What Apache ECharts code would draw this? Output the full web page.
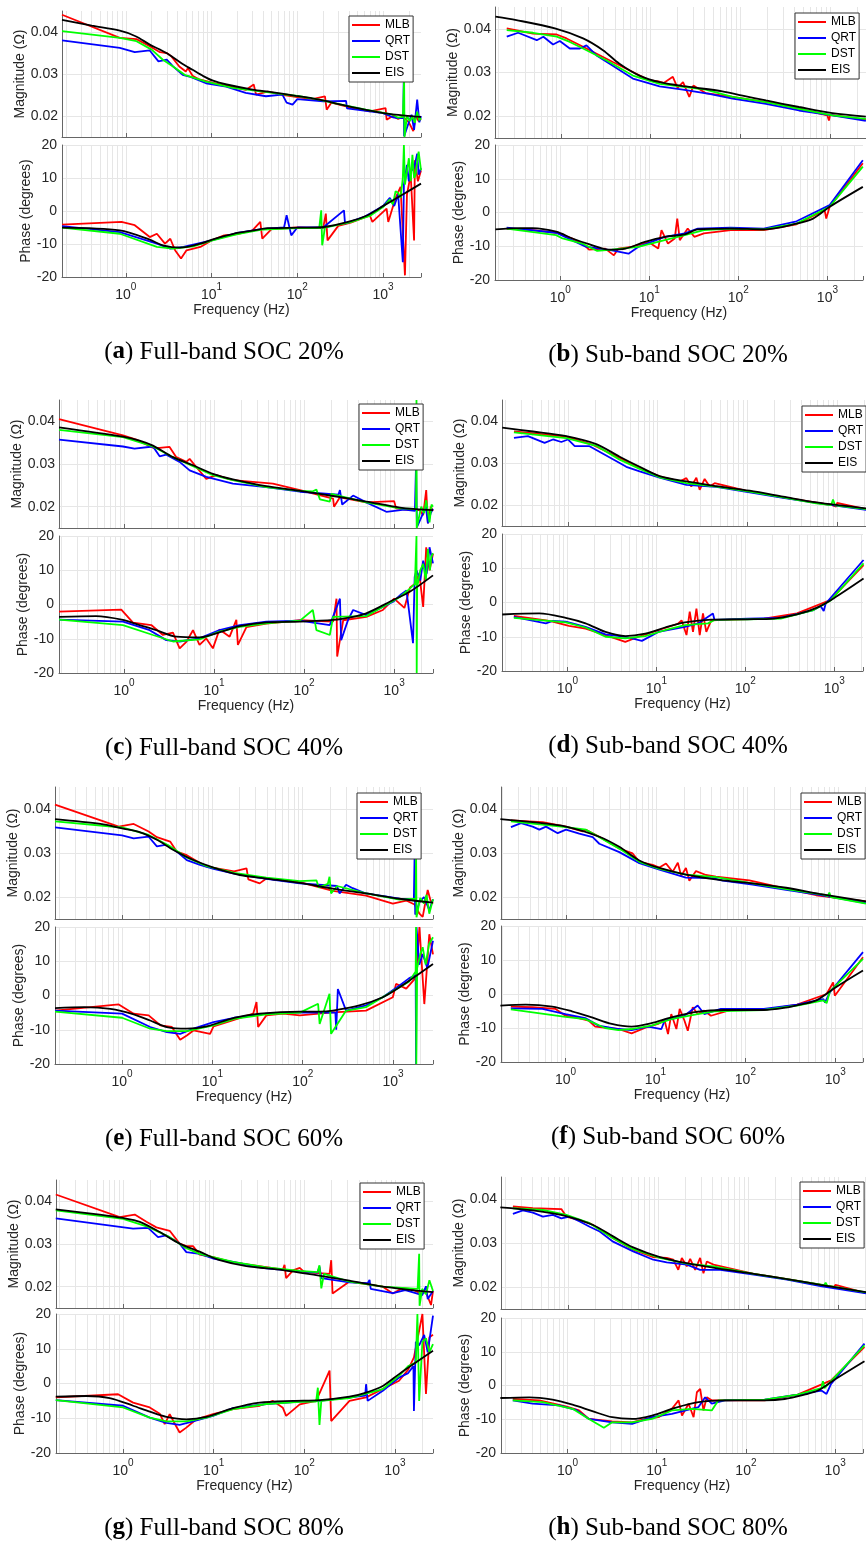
<!DOCTYPE html>
<html><head><meta charset="utf-8">
<script src="https://cdn.jsdelivr.net/npm/echarts@6/dist/echarts.min.js"></script>
<style>html,body{margin:0;padding:0;background:#fff}#c{width:866px;height:1542px}</style>
</head><body><div id="c"></div>
<script>
// ---------------- DATA ----------------
const seriesNames = ['MLB','QRT','DST','EIS'];
const captionLetters = ['a','b','c','d','e','f','g','h'];
const captionTexts = ['Full-band SOC 20%','Sub-band SOC 20%','Full-band SOC 40%','Sub-band SOC 40%','Full-band SOC 60%','Sub-band SOC 60%','Full-band SOC 80%','Sub-band SOC 80%'];
const magTickLabels = [0.02,0.03,0.04];

// (a) Full-band SOC 20%
const a_mag_MLB = [[0.18,0.0441],[0.85,0.0386],[1.33,0.0383],[1.9,0.0366],[2.5,0.0352],[3.0,0.0350],[3.4,0.0342],[4.2,0.0318],[5,0.0306],[5.3,0.0314],[6,0.0296],[7.2,0.0287],[10.4,0.0279],[15,0.0272],[25,0.0262],[31,0.0275],[33,0.0251],[45,0.0258],[70,0.0250],[100,0.0245],[150,0.0240],[210,0.0247],[220,0.0215],[250,0.0232],[400,0.0221],[700,0.0211],[1070,0.0219],[1100,0.0191],[1300,0.0200],[1500,0.0193],[1700,0.0199],[2000,0.0185],[2250,0.0164],[2400,0.0200],[2600,0.0188],[2770,0.0193]];
const a_mag_QRT = [[0.18,0.0380],[0.85,0.0362],[1.27,0.0352],[1.9,0.0356],[2.4,0.0330],[3.0,0.0334],[3.55,0.0318],[4.6,0.0298],[5.5,0.0294],[8.6,0.0278],[14.8,0.0270],[25,0.0255],[43,0.0247],[67,0.0251],[75,0.0232],[88,0.0227],[100,0.0240],[200,0.0235],[370,0.0236],[380,0.0218],[1000,0.0207],[1300,0.0197],[1500,0.0195],[1720,0.0195],[1740,0.0280],[1760,0.0152],[2000,0.0185],[2150,0.0203],[2300,0.0167],[2500,0.0239],[2650,0.0185],[2770,0.0200]];
const a_mag_DST = [[0.18,0.0402],[0.85,0.0386],[1.33,0.0378],[2,0.0358],[2.7,0.0334],[3.55,0.0318],[4.85,0.0298],[8.6,0.0282],[17.7,0.0267],[52,0.0255],[105,0.0247],[110,0.0251],[180,0.0239],[260,0.0231],[630,0.0215],[1300,0.0203],[1500,0.0196],[1700,0.0198],[1760,0.0289],[1780,0.0150],[1900,0.0200],[2050,0.0188],[2200,0.0198],[2350,0.0184],[2500,0.0210],[2650,0.0190],[2770,0.0195]];
const a_mag_EIS = [[0.18,0.0429],[0.4,0.0415],[0.85,0.0403],[1.3,0.0390],[1.9,0.0370],[2.5,0.0358],[3.2,0.0346],[4.5,0.0325],[6,0.0310],[8,0.0295],[10.4,0.0284],[15,0.0275],[30,0.0263],[50,0.0257],[96,0.0248],[150,0.0242],[200,0.0237],[400,0.0223],[700,0.0213],[1000,0.0207],[1800,0.0201],[2770,0.0198]];
const a_ph_MLB = [[0.18,-4.1],[0.89,-3.3],[1.27,-4.3],[1.9,-7.9],[2.3,-6.9],[2.86,-9.9],[3.3,-8.4],[3.75,-11.9],[4.4,-14.4],[5.1,-11.9],[7.4,-10.9],[10,-8.9],[14,-7.4],[20,-7.0],[30,-5.9],[37,-3.3],[39,-8.4],[50,-5.5],[100,-5.0],[200,-5.2],[215,-0.8],[225,-8.9],[300,-4.5],[420,-3.5],[700,-1.3],[750,-3.3],[1100,0.7],[1150,-3.3],[1400,4],[1600,7.3],[1800,-19.5],[1900,5],[2100,11],[2300,-8.9],[2350,15.4],[2550,9],[2770,12.3]];
const a_ph_QRT = [[0.18,-4.6],[0.85,-6.4],[2.3,-9.9],[3.3,-11.4],[4.7,-10.9],[10,-8.9],[20,-6.6],[40,-5.4],[70,-5.0],[75,-1.3],[85,-7.4],[100,-5.0],[200,-5.0],[350,0.2],[360,-3.8],[600,-1.8],[1000,1.5],[1200,4],[1350,1.5],[1500,5],[1700,-15.5],[1750,8],[1900,14],[2000,9],[2100,12],[2300,13],[2500,17.4],[2600,11],[2770,13]];
const a_ph_DST = [[0.18,-5.05],[0.85,-6.9],[2.3,-10.9],[3.55,-11.4],[6.1,-10.7],[10,-9.0],[20,-7.0],[40,-5.6],[100,-5.2],[180,-5.2],[190,0.2],[195,-10.4],[210,-5],[420,-3.4],[700,-1.5],[1000,1.2],[1200,3.5],[1300,2],[1400,6],[1500,5.5],[1600,4],[1700,10],[1750,20],[1800,8],[1900,12],[2000,16],[2100,9],[2200,17],[2300,10],[2400,11],[2500,15],[2600,18],[2770,12.3]];
const a_ph_EIS = [[0.18,-5.05],[0.85,-5.9],[1.9,-8.7],[2.7,-10.4],[4.3,-11.1],[7.4,-9.9],[10.6,-8.5],[18,-6.9],[31,-5.9],[45,-5.2],[109,-5.05],[205,-4.85],[420,-3.1],[660,-1.3],[1030,1.7],[1620,4.7],[2770,8.3]];

// (b) Sub-band SOC 20%
const b_mag_MLB = [[0.25,0.0401],[0.49,0.0389],[0.9,0.0387],[1.16,0.0378],[1.77,0.0359],[2.3,0.0347],[3.8,0.0324],[6.35,0.0301],[9.7,0.0282],[12,0.0280],[14,0.0276],[17.7,0.0290],[20,0.0265],[23,0.0278],[27,0.0244],[30,0.0270],[41,0.0253],[82,0.0244],[193,0.0232],[450,0.0217],[930,0.0202],[970,0.0190],[1000,0.0203],[2500,0.0192]];
const b_mag_QRT = [[0.25,0.0382],[0.335,0.0391],[0.54,0.0374],[0.64,0.0382],[0.82,0.0364],[0.975,0.0372],[1.26,0.0355],[1.63,0.0355],[1.93,0.0362],[2.5,0.0339],[3.5,0.0320],[6.35,0.0286],[12.6,0.0268],[22.9,0.0261],[45,0.0251],[82,0.0240],[193,0.0228],[450,0.0213],[1060,0.0202],[2500,0.0189]];
const b_mag_DST = [[0.25,0.0397],[0.49,0.0391],[0.9,0.0382],[1.26,0.0370],[1.77,0.0355],[3.21,0.0328],[6.35,0.0293],[12.6,0.0274],[41,0.0261],[82,0.0244],[193,0.0232],[450,0.0217],[1060,0.0202],[2500,0.0194]];
const b_mag_EIS = [[0.187,0.0428],[0.32,0.0420],[0.86,0.0401],[1.77,0.0378],[2.95,0.0351],[4.5,0.0320],[7.5,0.0293],[12.6,0.0278],[25,0.0268],[63,0.0257],[106,0.0247],[193,0.0236],[450,0.0221],[1060,0.0207],[2500,0.0199]];
const b_ph_MLB = [[0.25,-4.75],[0.49,-5.2],[0.9,-6.0],[1.37,-7.7],[1.93,-10],[2.1,-11],[3.2,-10.7],[4.0,-12.7],[4.5,-10.7],[6.35,-10.2],[9.7,-8.7],[12.6,-10.7],[13.7,-5.2],[16.2,-9.2],[19.3,-7.7],[20.6,-1.8],[22,-8.2],[27,-4.75],[32,-7.2],[41,-6.2],[82,-5.2],[193,-5.2],[450,-3.5],[930,0.7],[970,-1.8],[1060,1.7],[2500,14.6]];
const b_ph_QRT = [[0.25,-4.5],[0.9,-6.0],[1.93,-10.1],[3.8,-11.2],[5.84,-12.2],[7.5,-10.2],[14.9,-7.2],[25,-6.2],[35,-4.75],[82,-4.5],[193,-4.75],[450,-2.6],[1060,2.2],[2500,15.5]];
const b_ph_DST = [[0.25,-4.75],[0.9,-6.7],[1.06,-7.7],[1.77,-9.2],[2.6,-11.4],[3.8,-11.0],[7.5,-10.2],[14.9,-8.2],[25,-6.7],[41,-5.2],[82,-4.75],[193,-5.0],[450,-3.3],[1060,1.7],[2500,13.6]];
const b_ph_EIS = [[0.187,-5.0],[0.35,-4.6],[0.49,-4.6],[0.9,-5.7],[1.37,-7.7],[2.1,-9.4],[3.5,-11.0],[5.4,-10.7],[8.9,-8.7],[15,-7.2],[25,-6.5],[35,-5.0],[82,-4.75],[193,-5.0],[450,-3.3],[690,-1.8],[1060,1.7],[2500,7.6]];

// (c) Full-band SOC 40%
const c_mag_MLB = [[0.19,0.0405],[0.975,0.0367],[1.37,0.0357],[2.1,0.0338],[2.49,0.0338],[3.21,0.0340],[3.81,0.0316],[4.93,0.0305],[5.36,0.0312],[6.35,0.0293],[8.2,0.0265],[10.6,0.0274],[16.2,0.0262],[45,0.0254],[90,0.0239],[210,0.0219],[215,0.0200],[250,0.0222],[490,0.0210],[1000,0.0213],[1050,0.0196],[1500,0.0192],[1920,0.0192],[2100,0.0180],[2270,0.0239],[2370,0.0161],[2550,0.0200],[2700,0.0190]];
const c_mag_QRT = [[0.19,0.0357],[0.975,0.0341],[1.31,0.0336],[2.1,0.0341],[2.49,0.0318],[2.95,0.0322],[4.15,0.0305],[5.36,0.0285],[8.2,0.0270],[16.2,0.0254],[38,0.0246],[90,0.0235],[240,0.0228],[250,0.0239],[265,0.0205],[350,0.0226],[490,0.0210],[820,0.0188],[1300,0.0193],[1700,0.0190],[1750,0.0300],[1790,0.0152],[2100,0.0185],[2250,0.0200],[2370,0.0161],[2550,0.0185],[2700,0.0195]];
const c_mag_DST = [[0.19,0.0380],[0.975,0.0363],[2.1,0.0341],[3.5,0.0316],[5.84,0.0295],[9.72,0.0274],[16.2,0.0262],[38,0.0246],[90,0.0237],[125,0.0236],[137,0.0240],[150,0.0217],[193,0.0212],[200,0.0230],[490,0.0210],[1160,0.0196],[1750,0.0195],[1770,0.0450],[1780,0.0150],[2000,0.0200],[2150,0.0185],[2270,0.0215],[2470,0.0163],[2600,0.0205],[2700,0.0200]];
const c_mag_EIS = [[0.19,0.0386],[0.975,0.0364],[1.49,0.0355],[2.1,0.0343],[3.5,0.0316],[5.84,0.0297],[9.72,0.0277],[16.2,0.0264],[38,0.0248],[90,0.0237],[210,0.0225],[490,0.0212],[1160,0.0198],[2700,0.0192]];
const c_ph_MLB = [[0.19,-2.1],[0.934,-1.5],[1.26,-5.3],[2.01,-6.0],[2.71,-8.9],[3.5,-8.2],[4.15,-12.8],[4.93,-10.9],[5.84,-7.5],[6.9,-11.8],[8.2,-9.9],[9.72,-12.8],[11.5,-7.3],[14.9,-9.4],[17.7,-4.5],[18.4,-11.8],[22.9,-6.6],[38,-5.6],[90,-4.6],[210,-5.0],[229,1.7],[233,-15.2],[272,-4.6],[490,-3.6],[750,-1.6],[1000,1.7],[1300,-1],[1500,5],[1700,6],[1900,9],[2100,-0.7],[2270,16.7],[2470,10],[2700,14.8]];
const c_ph_QRT = [[0.19,-4.4],[0.975,-5.0],[1.93,-7.5],[2.95,-10.4],[4.15,-10.8],[6.9,-9.9],[11.5,-7.5],[19.3,-6.0],[38,-5.0],[90,-4.7],[193,-6.0],[250,1.7],[258,-10.4],[308,-4.5],[350,-1.6],[490,-3.1],[975,0.8],[1200,3],[1370,4.1],[1620,-11.3],[1690,8],[1770,10],[1950,7],[2100,12.8],[2300,9],[2470,16.7],[2700,12]];
const c_ph_DST = [[0.19,-4.4],[0.975,-6.0],[2.1,-8.9],[3.5,-10.8],[6.9,-10.2],[11.5,-7.9],[19.3,-6.5],[38,-5.5],[90,-4.7],[125,-1.6],[137,-7.5],[193,-8.9],[210,-3.6],[490,-3.4],[1160,2.2],[1400,4],[1700,6],[1770,20],[1780,-20],[1800,5],[1950,10],[2100,11.9],[2250,7],[2370,16.2],[2500,10],[2580,13.9],[2700,15]];
const c_ph_EIS = [[0.19,-3.6],[0.49,-3.4],[0.975,-4.5],[1.49,-6.0],[2.29,-7.5],[3.81,-9.4],[6.9,-9.6],[10.6,-8.4],[19.3,-6.3],[38,-5.2],[90,-5.0],[210,-4.5],[350,-3.6],[490,-2.6],[975,1.3],[1490,3.7],[2700,8.5]];

// (d) Sub-band SOC 40%
const d_mag_MLB = [[0.25,0.0375],[0.958,0.0363],[1.9,0.0343],[3.77,0.0312],[6.3,0.0288],[10.5,0.0268],[17.5,0.0256],[20.9,0.0264],[23.7,0.0244],[27,0.0265],[29.4,0.0236],[33.4,0.0262],[38,0.0244],[43.2,0.0252],[106,0.0232],[250,0.0218],[860,0.0200],[980,0.0196],[1000,0.0205],[2130,0.0190]];
const d_mag_QRT = [[0.25,0.0360],[0.358,0.0364],[0.549,0.0348],[0.68,0.0356],[0.843,0.0350],[1.0,0.0356],[1.19,0.0340],[1.74,0.0340],[2.07,0.0331],[3.77,0.0300],[4.47,0.0291],[6.3,0.0280],[10.5,0.0265],[20.9,0.0248],[45,0.0243],[106,0.0230],[250,0.0217],[585,0.0205],[2130,0.0188]];
const d_mag_DST = [[0.25,0.0373],[0.958,0.0359],[2.07,0.0341],[3.77,0.0308],[6.3,0.0286],[10.5,0.0266],[20.9,0.0252],[45,0.0244],[106,0.0232],[250,0.0218],[585,0.0204],[860,0.0200],[900,0.0213],[950,0.0199],[2130,0.0190]];
const d_mag_EIS = [[0.185,0.0384],[0.407,0.0375],[0.958,0.0364],[2.07,0.0345],[3.77,0.0315],[6.3,0.0291],[10.5,0.0269],[20.9,0.0256],[45,0.0245],[106,0.0234],[250,0.0220],[585,0.0206],[2130,0.0192]];
const d_ph_MLB = [[0.25,-3.9],[0.573,-5.2],[0.68,-5.6],[1.04,-6.8],[1.6,-7.6],[2.68,-9.5],[4.47,-11.5],[6.3,-10.0],[10.5,-8.1],[17.5,-6.2],[19.2,-5.2],[21.8,-9.5],[23.7,-2.7],[25.8,-8.6],[28.2,-1.8],[30.7,-9.5],[33.4,-3.2],[36.4,-8.6],[41.4,-5.2],[69,-5.0],[162,-4.7],[380,-3.2],[900,0.7],[2130,10.9]];
const d_ph_QRT = [[0.25,-4.2],[0.573,-6.1],[0.68,-5.4],[0.958,-5.6],[1.6,-7.1],[2.68,-9.3],[4.47,-10.0],[6.87,-11.2],[10.5,-8.6],[20.9,-7.1],[29.4,-6.1],[43.2,-3.2],[45,-5.1],[106,-4.7],[250,-4.5],[585,-2.2],[700,-1.0],[760,-2.5],[800,-0.3],[2130,12.4]];
const d_ph_DST = [[0.25,-4.5],[0.958,-5.8],[1.6,-7.3],[2.68,-10.0],[4.47,-10.5],[7.5,-9.8],[12.5,-8.1],[20.9,-6.6],[38,-6.1],[45,-5.1],[106,-4.9],[250,-4.7],[585,-2.2],[900,0.5],[2130,11.4]];
const d_ph_EIS = [[0.185,-3.5],[0.483,-3.2],[0.958,-4.5],[1.6,-6.1],[2.68,-8.6],[4.47,-9.8],[7.5,-9.1],[12.5,-7.3],[20.9,-5.8],[41.4,-5.0],[106,-4.9],[210,-4.7],[380,-3.5],[640,-1.5],[980,1.2],[2130,7.0]];

// (e) Full-band SOC 60%
const e_mag_MLB = [[0.181,0.0410],[0.919,0.0360],[1.345,0.0366],[1.97,0.0349],[2.43,0.0336],[3.41,0.0326],[4.04,0.0303],[4.59,0.0299],[5.21,0.0295],[7.3,0.0277],[8.66,0.0269],[17.4,0.0258],[23.9,0.0265],[25,0.0240],[33.4,0.0231],[39.6,0.0242],[93,0.0234],[216,0.0214],[502,0.0203],[995,0.0185],[1400,0.0192],[1730,0.0183],[1960,0.0162],[2130,0.0155],[2420,0.0216],[2600,0.0192],[2770,0.0185]];
const e_mag_QRT = [[0.181,0.0358],[1.0,0.0340],[1.345,0.0333],[1.97,0.0337],[2.43,0.0315],[3.13,0.0319],[4.04,0.0303],[5.21,0.0284],[7.3,0.0273],[10.3,0.0264],[17.4,0.0253],[39.6,0.0241],[93,0.0231],[240,0.0225],[256,0.0208],[302,0.0228],[358,0.0220],[502,0.0208],[1180,0.0196],[1700,0.0195],[1730,0.0288],[1760,0.0160],[1960,0.0188],[2200,0.0200],[2520,0.0170],[2770,0.0195]];
const e_mag_DST = [[0.181,0.0372],[1.0,0.0358],[1.97,0.0341],[3.41,0.0315],[5.21,0.0290],[8.66,0.0270],[17.4,0.0255],[39.6,0.0244],[93,0.0236],[142,0.0238],[150,0.0222],[190,0.0230],[198,0.0246],[206,0.0208],[240,0.0225],[502,0.0208],[1180,0.0194],[1780,0.0196],[1800,0.0303],[1820,0.0154],[2000,0.0198],[2200,0.0185],[2350,0.0205],[2520,0.0162],[2770,0.0195]];
const e_mag_EIS = [[0.181,0.0377],[0.577,0.0366],[1.0,0.0356],[1.59,0.0347],[2.43,0.0330],[3.71,0.0307],[6.17,0.0284],[10.3,0.0267],[20.2,0.0250],[39.6,0.0242],[93,0.0232],[216,0.0219],[502,0.0208],[1180,0.0196],[2770,0.0187]];
const e_ph_MLB = [[0.181,-4.4],[0.919,-2.6],[1.345,-5.3],[1.97,-5.8],[2.65,-8.7],[3.56,-9.2],[4.4,-12.9],[5.21,-11.7],[6.17,-10.2],[9.43,-11.2],[10.3,-9.0],[17.4,-7.1],[28.3,-5.3],[30.8,-1.9],[32.1,-9.2],[39.6,-5.8],[60.7,-5.3],[93,-5.8],[216,-4.9],[502,-4.4],[995,-0.5],[1080,3.4],[1400,2],[1800,5.3],[1960,20],[2220,-2.5],[2400,10],[2520,17.9],[2770,12]];
const e_ph_QRT = [[0.181,-4.4],[1.0,-5.3],[2.05,-9.2],[3.13,-10.7],[4.4,-11.2],[6.17,-9.7],[10.3,-7.8],[17.4,-6.5],[39.6,-5.3],[93,-4.9],[230,-5.0],[235,-10.0],[245,1.9],[302,-4.4],[502,-2.9],[770,-0.5],[1180,2.9],[1500,5],[1780,6],[1800,-20],[1820,20],[1950,9],[2130,12.1],[2400,8],[2770,16]];
const e_ph_DST = [[0.181,-4.7],[1.0,-6.5],[2.05,-9.7],[3.13,-10.4],[5.21,-10.4],[10.3,-8.7],[17.4,-6.8],[39.6,-5.5],[93,-5.0],[148,-2.4],[154,-8.3],[198,0.5],[206,-11.2],[300,-4.5],[502,-3.4],[1180,2.4],[1500,4],[1780,7],[1800,20],[1810,-20],[1850,8],[2000,12],[2130,14.1],[2300,9],[2500,15],[2770,17]];
const e_ph_EIS = [[0.181,-3.7],[0.378,-3.4],[0.743,-3.9],[1.345,-5.5],[2.05,-7.3],[3.13,-9.2],[5.21,-9.7],[8.66,-9.0],[17.4,-6.5],[33.4,-5.3],[93,-4.7],[154,-4.7],[216,-4.4],[424,-2.9],[770,-0.5],[1180,2.4],[2770,9.2]];

// (f) Sub-band SOC 60%
const f_mag_MLB = [[0.247,0.0374],[0.553,0.0370],[1.0,0.0360],[1.53,0.0349],[1.66,0.0353],[2.33,0.0337],[3.87,0.0310],[5.43,0.0299],[6.44,0.0280],[9.03,0.0273],[10.7,0.0267],[12.66,0.0276],[15,0.0257],[17.1,0.0278],[18.6,0.0248],[21,0.0266],[22.9,0.0237],[27.1,0.0259],[34.9,0.0250],[45,0.0246],[105,0.0238],[267,0.0219],[572,0.0204],[2030,0.0190]];
const f_mag_QRT = [[0.247,0.0359],[0.319,0.0368],[0.429,0.0360],[0.508,0.0353],[0.602,0.0360],[0.81,0.0345],[1.0,0.0353],[1.4,0.0344],[1.97,0.0336],[2.33,0.0321],[3.87,0.0302],[6.44,0.0277],[10.7,0.0262],[21,0.0244],[41.4,0.0243],[53.3,0.0237],[114,0.0228],[267,0.0216],[622,0.0205],[2030,0.0186]];
const f_mag_DST = [[0.247,0.0372],[1.0,0.0359],[1.66,0.0353],[2.33,0.0336],[3.87,0.0310],[6.44,0.0280],[10.7,0.0264],[21,0.0251],[45,0.0245],[114,0.0231],[267,0.0218],[706,0.0205],[770,0.0202],[800,0.0210],[830,0.0200],[2030,0.0185]];
const f_mag_EIS = [[0.189,0.0377],[0.429,0.0370],[1.0,0.0360],[2.33,0.0337],[3.87,0.0314],[6.44,0.0283],[10.7,0.0266],[21,0.0251],[49,0.0239],[114,0.0231],[267,0.0221],[622,0.0207],[2030,0.0190]];
const f_ph_MLB = [[0.247,-3.7],[0.429,-3.9],[0.776,-4.4],[1.0,-6.4],[1.29,-6.9],[1.81,-7.8],[2.14,-9.6],[3.87,-10.3],[5.43,-11.6],[7.62,-10.0],[10.7,-8.8],[12.66,-7.8],[13.8,-11.8],[15,-5.9],[17.1,-10.3],[18.6,-4.4],[21,-7.8],[22.9,-10.8],[26,-3.9],[29.5,-5.9],[34.9,-4.9],[41.4,-6.4],[69,-4.7],[160,-4.7],[375,-3.1],[800,0],[945,3.4],[987,-0.5],[2030,10.8]];
const f_ph_QRT = [[0.247,-4.2],[0.553,-4.4],[1.0,-5.9],[1.66,-7.1],[2.33,-9.3],[3.87,-10.3],[5.43,-10.6],[8.3,-9.6],[11.65,-10.3],[12.66,-7.8],[21,-6.4],[29.5,-3.4],[34.9,-5.9],[53.3,-4.4],[160,-4.4],[375,-3.1],[737,-1.5],[768,-2.5],[870,0.5],[2030,12.3]];
const f_ph_DST = [[0.247,-4.5],[1.0,-6.7],[1.66,-7.4],[2.76,-10.0],[3.87,-10.6],[5.43,-10.3],[9.03,-9.3],[15,-7.4],[29.5,-5.9],[45,-5.1],[160,-4.7],[375,-3.4],[737,-1.9],[800,-2.7],[870,0.8],[2030,10.3]];
const f_ph_EIS = [[0.189,-3.4],[0.362,-3.1],[0.713,-3.7],[1.18,-5.1],[1.97,-6.9],[3.27,-8.8],[5.43,-9.6],[9.03,-8.6],[15,-6.9],[29.5,-5.2],[58,-4.7],[160,-4.7],[267,-4.1],[444,-2.9],[622,-1.8],[987,1.8],[2030,6.9]];

// (g) Full-band SOC 80%
const g_mag_MLB = [[0.181,0.0416],[0.919,0.0363],[1.345,0.0369],[1.81,0.0352],[2.33,0.0339],[3.27,0.0331],[4.21,0.0301],[4.99,0.0295],[5.91,0.0295],[7.0,0.0275],[9.83,0.0269],[16.35,0.0257],[38.1,0.0246],[58,0.0240],[60.5,0.0251],[63,0.0220],[75,0.0238],[89,0.0244],[100,0.0234],[190,0.0230],[198,0.0262],[205,0.0184],[315,0.0212],[735,0.0200],[947,0.0184],[1200,0.0196],[1500,0.0195],[1900,0.0185],[2200,0.0187],[2500,0.0157],[2630,0.0190]];
const g_mag_QRT = [[0.181,0.0360],[1.29,0.0336],[1.89,0.0338],[2.43,0.0316],[3.0,0.0320],[4.21,0.0301],[4.99,0.0281],[7.0,0.0277],[9.83,0.0266],[16.35,0.0258],[38.1,0.0243],[89,0.0236],[140,0.0233],[147,0.0247],[154,0.0220],[315,0.0210],[500,0.0208],[525,0.0216],[540,0.0195],[947,0.0185],[1300,0.0192],[1620,0.0186],[2000,0.0180],[2200,0.0201],[2300,0.0171],[2630,0.0190]];
const g_mag_DST = [[0.181,0.0379],[1.0,0.0359],[1.89,0.0340],[3.27,0.0316],[4.99,0.0290],[7.0,0.0277],[16.35,0.0258],[38.1,0.0245],[89,0.0237],[140,0.0234],[147,0.0250],[154,0.0196],[165,0.0230],[315,0.0212],[735,0.0200],[1780,0.0195],[1850,0.0277],[1870,0.0155],[2000,0.0195],[2200,0.0182],[2400,0.0215],[2630,0.0190]];
const g_mag_EIS = [[0.181,0.0381],[0.553,0.0369],[1.0,0.0361],[1.53,0.0352],[2.54,0.0328],[4.21,0.0301],[7.0,0.0282],[11.65,0.0262],[22.9,0.0248],[58,0.0239],[135,0.0227],[315,0.0214],[735,0.0200],[2630,0.0187]];
const g_ph_MLB = [[0.181,-4.0],[0.881,-3.1],[1.29,-5.5],[1.97,-6.9],[2.54,-8.7],[2.88,-11.7],[3.27,-8.8],[3.71,-11.5],[4.21,-14.1],[4.99,-12.7],[6.44,-10.3],[9.83,-8.8],[16.35,-7.4],[32.2,-6.4],[45,-5.0],[58,-7],[63,-9.3],[89,-6.0],[135,-5.0],[190,3.7],[198,-10.8],[315,-5.0],[480,-4.0],[735,-1.6],[1110,0.8],[1400,4],[1620,7.5],[2010,20],[2200,-3],[2400,13.3],[2630,14]];
const g_ph_QRT = [[0.181,-4.8],[1.0,-6.4],[1.97,-9.8],[3.0,-11.3],[4.21,-11.9],[5.91,-10.9],[9.83,-9.3],[16.35,-7.1],[38.1,-5.9],[89,-5.2],[147,-5.0],[470,-3.5],[480,-0.2],[500,-5.0],[735,-2.1],[1110,1.7],[1400,3],[1600,5],[1620,-7.9],[1700,12],[1850,11],[2100,14],[2300,9],[2630,19.5]];
const g_ph_DST = [[0.181,-4.8],[1.0,-6.9],[1.97,-9.8],[3.0,-10.9],[4.99,-10.9],[8.3,-9.8],[16.35,-7.4],[38.1,-5.9],[89,-5.3],[135,-5.2],[141,-1.2],[147,-11.9],[154,-5],[315,-4.2],[735,-1.6],[1110,2.2],[1400,5],[1700,6],[1770,20],[1850,-5],[2010,12],[2200,13],[2400,9],[2630,11.3]];
const g_ph_EIS = [[0.181,-3.8],[0.394,-3.6],[0.713,-4.2],[1.29,-6.4],[1.97,-8.1],[3.0,-9.6],[4.99,-10.3],[8.3,-9.6],[16.35,-7.1],[32.2,-5.5],[75,-5.0],[147,-4.8],[315,-3.8],[480,-2.6],[735,-0.7],[1110,2.7],[2630,9.4]];

// (h) Sub-band SOC 80%
const h_mag_MLB = [[0.244,0.0383],[0.407,0.0379],[0.843,0.0377],[0.958,0.0360],[1.74,0.0345],[1.9,0.0341],[3.17,0.0311],[5.3,0.0285],[8.87,0.0268],[12.5,0.0266],[14.8,0.0262],[16.8,0.0239],[18.4,0.0266],[20.9,0.0247],[22.8,0.0264],[25.9,0.0239],[29.4,0.0266],[32,0.0231],[34.9,0.0258],[41.4,0.0251],[116,0.0230],[272,0.0218],[900,0.0200],[940,0.0205],[2130,0.0185]];
const h_mag_QRT = [[0.244,0.0366],[0.315,0.0374],[0.407,0.0369],[0.526,0.0360],[0.68,0.0364],[0.843,0.0356],[1.04,0.0360],[1.35,0.0349],[1.74,0.0337],[2.25,0.0326],[3.17,0.0303],[5.3,0.0281],[8.87,0.0262],[12.5,0.0256],[20.9,0.0251],[29.4,0.0239],[49.1,0.0239],[116,0.0228],[272,0.0217],[640,0.0202],[2130,0.0185]];
const h_mag_DST = [[0.244,0.0379],[0.526,0.0375],[0.958,0.0364],[1.74,0.0345],[3.17,0.0311],[5.3,0.0286],[10.5,0.0266],[20.9,0.0253],[41.4,0.0247],[116,0.0230],[272,0.0218],[700,0.0204],[730,0.0210],[760,0.0203],[2130,0.0187]];
const h_mag_EIS = [[0.177,0.0381],[0.407,0.0374],[1.0,0.0360],[1.9,0.0341],[3.17,0.0315],[5.3,0.0290],[10.5,0.0268],[20.9,0.0254],[49.1,0.0241],[116,0.0230],[272,0.0218],[640,0.0205],[2130,0.0188]];
const h_ph_MLB = [[0.244,-4.0],[0.483,-4.4],[0.958,-6.2],[1.35,-7.4],[1.74,-9.9],[3.17,-10.6],[5.3,-10.9],[7.47,-9.9],[10.5,-9.4],[14.8,-6.9],[17.6,-4.4],[19.2,-8.9],[22.8,-5.4],[25.9,-9.4],[28.2,-2.0],[30.7,-1.0],[33.4,-7.4],[36.4,-3.5],[41.4,-4.4],[58,-4.4],[162,-4.4],[380,-2.7],[900,1.5],[2130,11.4]];
const h_ph_QRT = [[0.244,-4.4],[0.407,-5.4],[0.807,-5.9],[1.24,-7.2],[1.74,-9.9],[3.17,-10.9],[5.3,-11.4],[8.87,-9.4],[14.8,-8.4],[29.4,-6.4],[34.9,-3.5],[41.4,-5.4],[58,-4.4],[162,-4.2],[380,-2.7],[700,-1.5],[800,-2.5],[900,0.5],[2130,12.4]];
const h_ph_DST = [[0.244,-4.4],[0.526,-4.9],[1.14,-6.9],[1.74,-9.9],[2.56,-12.5],[3.17,-10.9],[5.3,-10.9],[8.87,-9.9],[14.8,-7.4],[24.8,-6.9],[41.4,-7.4],[49.1,-4.4],[162,-4.2],[380,-2.7],[700,-0.8],[730,1.3],[760,-0.8],[2130,11.9]];
const h_ph_EIS = [[0.177,-3.7],[0.373,-3.5],[0.68,-4.2],[1.14,-5.7],[1.9,-7.6],[3.17,-9.4],[5.3,-9.9],[8.87,-8.9],[16.1,-6.6],[29.4,-4.9],[58,-4.4],[162,-4.4],[272,-4.0],[452,-2.7],[640,-1.5],[1020,2.0],[2130,7.2]];

// ---------------- LAYOUT / STYLE ----------------
const COLORS = {MLB:'#ff0000', QRT:'#0000ff', DST:'#00ff00', EIS:'#000000'};
const FONT = "'Liberation Sans', Arial, sans-serif";
const SERIF = "'Liberation Serif', 'Times New Roman', serif";
const LAYOUT = [
  {left:62,  right:421, xmin:0.18,  xmax:2770, mag:[11,137],    ph:[145,277],    leg:[349,16],   cap:[224,352]},
  {left:495, right:866, xmin:0.185, xmax:2510, mag:[7,138],     ph:[145,280],    leg:[795,13],   cap:[668,355]},
  {left:59,  right:433, xmin:0.19,  xmax:2700, mag:[400,528],   ph:[536,673],    leg:[359,404],  cap:[224,748]},
  {left:502, right:866, xmin:0.184, xmax:2100, mag:[400,526],   ph:[534,671],    leg:[802,406],  cap:[668,746]},
  {left:55,  right:433, xmin:0.181, xmax:2770, mag:[787,919],   ph:[927,1064],   leg:[357,793],  cap:[224,1139]},
  {left:501, right:866, xmin:0.192, xmax:2030, mag:[787,919],   ph:[926,1062],   leg:[801,793],  cap:[668,1137]},
  {left:56,  right:433, xmin:0.182, xmax:2630, mag:[1180,1308], ph:[1314,1453],  leg:[360,1183], cap:[224,1528]},
  {left:501, right:866, xmin:0.18,  xmax:2050, mag:[1177,1309], ph:[1318,1453],  leg:[800,1182], cap:[668,1528]}
];
const PANEL_DATA = [
  {mag:{MLB:a_mag_MLB,QRT:a_mag_QRT,DST:a_mag_DST,EIS:a_mag_EIS}, ph:{MLB:a_ph_MLB,QRT:a_ph_QRT,DST:a_ph_DST,EIS:a_ph_EIS}},
  {mag:{MLB:b_mag_MLB,QRT:b_mag_QRT,DST:b_mag_DST,EIS:b_mag_EIS}, ph:{MLB:b_ph_MLB,QRT:b_ph_QRT,DST:b_ph_DST,EIS:b_ph_EIS}},
  {mag:{MLB:c_mag_MLB,QRT:c_mag_QRT,DST:c_mag_DST,EIS:c_mag_EIS}, ph:{MLB:c_ph_MLB,QRT:c_ph_QRT,DST:c_ph_DST,EIS:c_ph_EIS}},
  {mag:{MLB:d_mag_MLB,QRT:d_mag_QRT,DST:d_mag_DST,EIS:d_mag_EIS}, ph:{MLB:d_ph_MLB,QRT:d_ph_QRT,DST:d_ph_DST,EIS:d_ph_EIS}},
  {mag:{MLB:e_mag_MLB,QRT:e_mag_QRT,DST:e_mag_DST,EIS:e_mag_EIS}, ph:{MLB:e_ph_MLB,QRT:e_ph_QRT,DST:e_ph_DST,EIS:e_ph_EIS}},
  {mag:{MLB:f_mag_MLB,QRT:f_mag_QRT,DST:f_mag_DST,EIS:f_mag_EIS}, ph:{MLB:f_ph_MLB,QRT:f_ph_QRT,DST:f_ph_DST,EIS:f_ph_EIS}},
  {mag:{MLB:g_mag_MLB,QRT:g_mag_QRT,DST:g_mag_DST,EIS:g_mag_EIS}, ph:{MLB:g_ph_MLB,QRT:g_ph_QRT,DST:g_ph_DST,EIS:g_ph_EIS}},
  {mag:{MLB:h_mag_MLB,QRT:h_mag_QRT,DST:h_mag_DST,EIS:h_mag_EIS}, ph:{MLB:h_ph_MLB,QRT:h_ph_QRT,DST:h_ph_DST,EIS:h_ph_EIS}}
];

const AXIS_COLOR = '#666';
const GRID_COLOR = '#e6e6e6';
const TEXT_COLOR = '#262626';

const grids = [], xAxes = [], yAxes = [], series = [], legends = [], graphics = [];

LAYOUT.forEach((L, p) => {
  ['mag','ph'].forEach((kind, k) => {
    const gi = p * 2 + k;
    const top = L[kind][0], bot = L[kind][1];
    grids.push({left: L.left, top: top, width: L.right - L.left, height: bot - top, containLabel: false});
    const isPh = kind === 'ph';
    xAxes.push({
      type: 'log', logBase: 10, gridIndex: gi, min: L.xmin, max: L.xmax,
      axisLine: {show: true, onZero: false, lineStyle: {color: AXIS_COLOR, width: 1}},
      axisTick: {show: true, inside: true, length: 4, lineStyle: {color: AXIS_COLOR}},
      splitLine: {show: false},
      axisLabel: isPh ? {
        show: true, margin: 5, color: TEXT_COLOR,
        formatter: function (v) {
          const e = Math.log10(v), r = Math.round(e);
          return Math.abs(e - r) < 1e-6 ? '{b|10}{s|' + r + '}' : '';
        },
        rich: {
          b: {fontSize: 14, fontFamily: FONT, color: TEXT_COLOR, lineHeight: 20, verticalAlign: 'bottom'},
          s: {fontSize: 10, fontFamily: FONT, color: TEXT_COLOR, lineHeight: 12, verticalAlign: 'top'}
        }
      } : {show: false},
      name: isPh ? 'Frequency (Hz)' : '', nameLocation: 'middle', nameGap: 25,
      nameTextStyle: {fontSize: 14, fontFamily: FONT, color: TEXT_COLOR}
    });
    yAxes.push(isPh ? {
      type: 'value', gridIndex: gi, min: -20, max: 20, interval: 10,
      axisLine: {show: true, onZero: false, lineStyle: {color: AXIS_COLOR, width: 1}},
      axisTick: {show: false},
      splitLine: {show: true, lineStyle: {color: GRID_COLOR, width: 1}},
      axisLabel: {fontSize: 14, fontFamily: FONT, color: TEXT_COLOR, margin: 5},
      name: 'Phase (degrees)', nameLocation: 'middle', nameRotate: 90, nameGap: 26,
      nameTextStyle: {fontSize: 14, fontFamily: FONT, color: TEXT_COLOR}
    } : {
      type: 'value', gridIndex: gi, min: 0.015, max: 0.045, interval: 0.005,
      axisLine: {show: true, onZero: false, lineStyle: {color: AXIS_COLOR, width: 1}},
      axisTick: {show: false},
      splitLine: {show: false},
      axisLabel: {fontSize: 14, fontFamily: FONT, color: TEXT_COLOR, margin: 4,
        formatter: function (v) {
          for (const t of magTickLabels) if (Math.abs(v - t) < 1e-6) return t.toFixed(2);
          return '';
        }},
      name: 'Magnitude (Ω)', nameLocation: 'middle', nameRotate: 90, nameGap: 32,
      nameTextStyle: {fontSize: 14, fontFamily: FONT, color: TEXT_COLOR}
    });
    // grid lines (decade and minor log lines, plus magnitude horizontal lines)
    const lines = [];
    for (let e = -1; e <= 3; e++) {
      for (let m = 1; m <= 9; m++) {
        const v = m * Math.pow(10, e);
        if (v > L.xmin * 1.01 && v < L.xmax * 0.995) lines.push({xAxis: v});
      }
    }
    if (!isPh) magTickLabels.forEach(v => lines.push({yAxis: v}));
    series.push({
      type: 'line', xAxisIndex: gi, yAxisIndex: gi, data: [], silent: true, z: 0,
      markLine: {silent: true, z: 0, symbol: ['none','none'], label: {show: false}, animation: false,
        lineStyle: {color: GRID_COLOR, width: 1, type: 'solid'}, emphasis: {disabled: true}, data: lines}
    });
    seriesNames.forEach(n => {
      series.push({
        name: n, type: 'line', xAxisIndex: gi, yAxisIndex: gi,
        data: PANEL_DATA[p][kind][n], showSymbol: false, symbol: 'none',
        smooth: n === 'EIS' ? 0.3 : false,
        lineStyle: {color: COLORS[n], width: 1.8},
        itemStyle: {color: COLORS[n]},
        emphasis: {disabled: true}, z: 3, clip: true
      });
    });
  });
  legends.push({
    orient: 'vertical', left: L.leg[0], top: L.leg[1], data: seriesNames,
    icon: 'rect', itemWidth: 28, itemHeight: 2, itemGap: 2,
    textStyle: {fontSize: 12, fontFamily: FONT, color: '#000', lineHeight: 14},
    backgroundColor: '#fff', borderColor: '#333', borderWidth: 1, padding: [2, 3, 2, 3],
    selectedMode: false, z: 10
  });
  graphics.push({
    type: 'text', x: L.cap[0], y: L.cap[1], z: 10,
    style: {
      text: '({b|' + captionLetters[p] + '}) ' + captionTexts[p],
      align: 'center', verticalAlign: 'middle',
      fontSize: 25, fontFamily: SERIF, fill: '#000',
      rich: {b: {fontSize: 25, fontFamily: SERIF, fontWeight: 'bold', fill: '#000'}}
    }
  });
});

const chart = echarts.init(document.getElementById('c'), null, {renderer: 'canvas'});
chart.setOption({
  animation: false,
  backgroundColor: '#fff',
  grid: grids, xAxis: xAxes, yAxis: yAxes, series: series,
  legend: legends, graphic: graphics, tooltip: {show: false}
});
</script></body></html>
